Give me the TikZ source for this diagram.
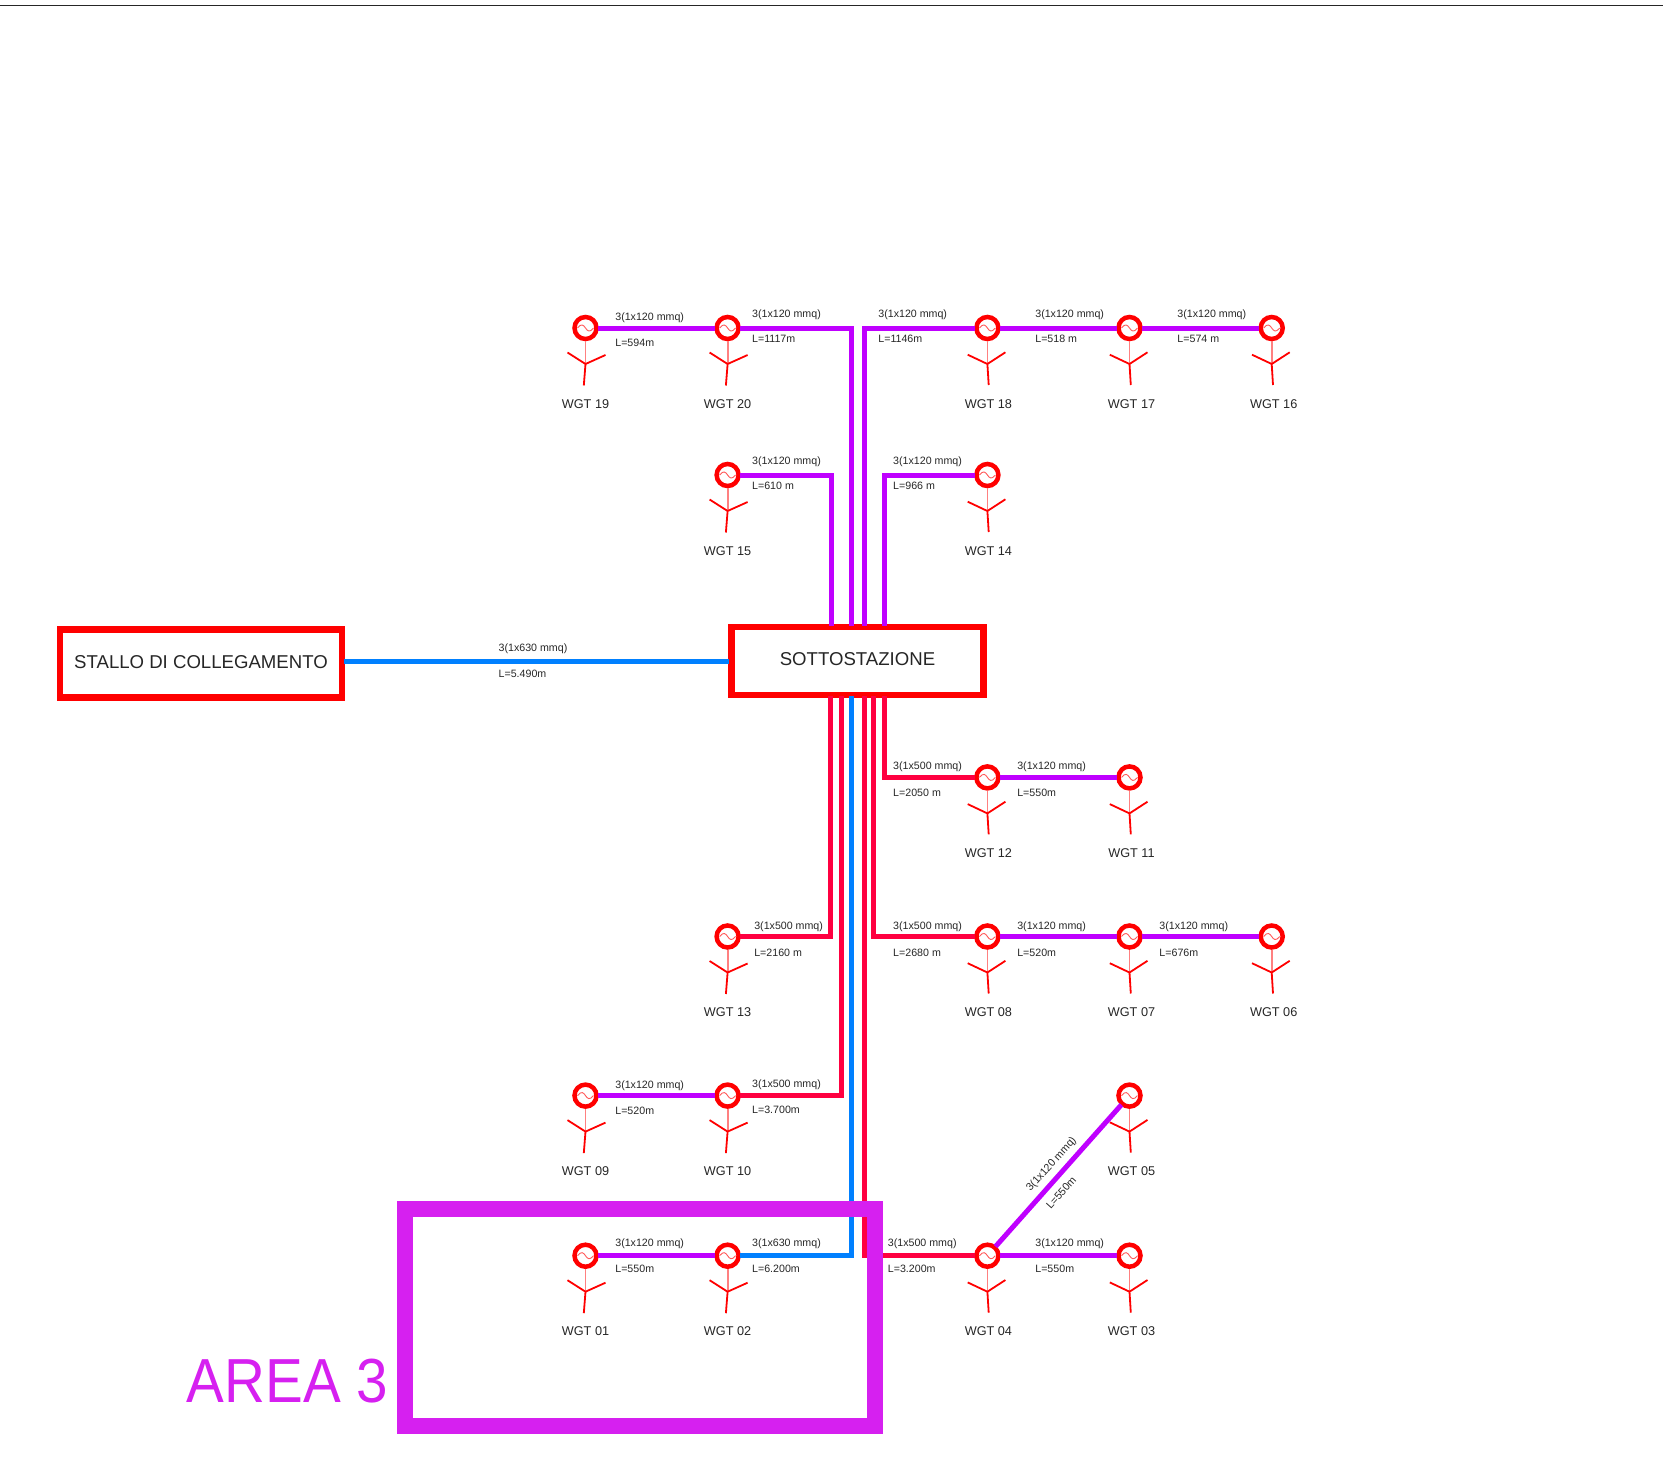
\documentclass[tikz,border=0pt]{standalone}
\usepackage{fontspec}
\setmainfont{Liberation Sans}
\definecolor{cpurple}{HTML}{BF00FF}
\definecolor{cpink}{HTML}{FF0040}
\definecolor{cblue}{HTML}{0080FF}
\definecolor{cred}{HTML}{FF0000}
\definecolor{carea}{HTML}{D620F0}
\definecolor{ctext}{HTML}{262626}
\newcount\labc
\newcommand{\lab}[3]{\global\advance\labc by 1
  \node[lab,name=lab\the\labc] at (#1,#2) {#3};}
\tikzset{
  gen/.style={circle,draw=cred,fill=white,line width=4.5pt,minimum size=22pt,inner sep=0pt},
  wave/.style={draw=cred!65,line width=0.9pt},
  stem/.style={draw=cred!50,line width=1.8pt},
  blade/.style={draw=cred,line width=1.8pt},
  wgtlabel/.style={font=\fontsize{12.7}{14}\selectfont,text=ctext,inner sep=0pt},
  biglabel/.style={font=\fontsize{18.6}{20}\selectfont,text=ctext,inner sep=0pt},
  lab/.style={font=\fontsize{10.65}{12}\selectfont,text=ctext,inner sep=0pt,anchor=base west,yshift=-3.8pt},
  mainbox/.style={draw=cred,fill=white,line width=6.5pt,inner sep=0pt},
  pcab/.style={draw=cpurple,line width=5pt,shorten <=-1pt,shorten >=-1pt},
  rcab/.style={draw=cpink,line width=5pt,shorten <=-1pt,shorten >=-1pt},
  bcab/.style={draw=cblue,line width=5pt,shorten <=-1pt,shorten >=-1pt},
}
\newcommand{\turbA}[5]{%
  \node[gen] (#1) at (#2,#3) {};
  \draw[wave] (#2-8,#3) .. controls (#2-4,#3-5) and (#2-2,#3-3) .. (#2,#3) .. controls (#2+2,#3+3) and (#2+4,#3+5) .. (#2+8,#3);
  \coordinate (#1hub) at (#2,#3+36);
  \draw[stem] (#1) -- (#1hub);
  \draw[blade] (#1hub) -- (#2-18,#3+24.5) (#1hub) -- (#2+20,#3+27) (#1hub) -- (#2-1.7,#3+57.5);
  \node[wgtlabel] (#1lab) at (#2+#5,#3+75.9) {#4};}
\newcommand{\turbB}[5]{%
  \node[gen] (#1) at (#2,#3) {};
  \draw[wave] (#2-8,#3) .. controls (#2-4,#3-5) and (#2-2,#3-3) .. (#2,#3) .. controls (#2+2,#3+3) and (#2+4,#3+5) .. (#2+8,#3);
  \coordinate (#1hub) at (#2,#3+36);
  \draw[stem] (#1) -- (#1hub);
  \draw[blade] (#1hub) -- (#2-19.7,#3+26.7) (#1hub) -- (#2+18,#3+24.3) (#1hub) -- (#2+1.3,#3+57);
  \node[wgtlabel] (#1lab) at (#2+#5,#3+75.9) {#4};}
\begin{document}
\begin{tikzpicture}[x=1pt,y=-1pt]
\useasboundingbox (0,0) rectangle (1663,1464);
\coordinate (tl) at (0,5.5);
\coordinate (tr) at (1663,5.5);
\draw[black!85,line width=1.3pt] (tl) -- (tr);

% main boxes
\node[mainbox,minimum width=252pt,minimum height=68pt] (ss) at (857.5,661) {};
\node[biglabel] (sslab) at (857.5,659) {SOTTOSTAZIONE};
\node[mainbox,minimum width=282pt,minimum height=68pt] (st) at (201,663.5) {};
\node[biglabel] (stlab) at (201,662) {STALLO DI COLLEGAMENTO};

% turbines
\turbA{w19}{585.5}{328}{WGT 19}{0}
\turbA{w20}{727.6}{328}{WGT 20}{0}
\turbB{w18}{987.4}{328}{WGT 18}{1}
\turbB{w17}{1129.5}{328}{WGT 17}{2}
\turbB{w16}{1271.7}{328}{WGT 16}{2}
\turbA{w15}{727.6}{475}{WGT 15}{0}
\turbB{w14}{987.4}{475}{WGT 14}{1}
\turbB{w12}{987.4}{777.4}{WGT 12}{1}
\turbB{w11}{1129.5}{777.4}{WGT 11}{2}
\turbA{w13}{727.6}{936.5}{WGT 13}{0}
\turbB{w08}{987.4}{936.5}{WGT 08}{1}
\turbB{w07}{1129.5}{936.5}{WGT 07}{2}
\turbB{w06}{1271.7}{936.5}{WGT 06}{2}
\turbA{w09}{585.5}{1095.6}{WGT 09}{0}
\turbA{w10}{727.6}{1095.6}{WGT 10}{0}
\turbB{w05}{1129.5}{1095.6}{WGT 05}{2}
\turbA{w01}{585.5}{1255.7}{WGT 01}{0}
\turbA{w02}{727.6}{1255.7}{WGT 02}{0}
\turbB{w04}{987.4}{1255.7}{WGT 04}{1}
\turbB{w03}{1129.5}{1255.7}{WGT 03}{2}

% entry points on the substation
\coordinate (n1) at (831,625);
\coordinate (n2) at (851,625);
\coordinate (n3) at (864,625);
\coordinate (n4) at (884.3,625);
\coordinate (s1) at (830.7,697);
\coordinate (s2) at (841.7,697);
\coordinate (s3) at (851,697);
\coordinate (s4) at (864,697);
\coordinate (s5) at (873.3,697);
\coordinate (s6) at (884.3,697);
\coordinate (stout) at (st.east |- ss.west);

% connectors
\draw[bcab] (stout) -- (ss.west);
\draw[pcab] (w19) -- (w20);
\draw[pcab] (w20) -| (n2);
\draw[pcab] (w18) -| (n3);
\draw[pcab] (w18) -- (w17);
\draw[pcab] (w17) -- (w16);
\draw[pcab] (w15) -| (n1);
\draw[pcab] (w14) -| (n4);
\draw[rcab] (w12) -| (s6);
\draw[pcab] (w12) -- (w11);
\draw[rcab] (w13) -| (s1);
\draw[rcab] (w08) -| (s5);
\draw[pcab] (w08) -- (w07);
\draw[pcab] (w07) -- (w06);
\draw[pcab] (w09) -- (w10);
\draw[rcab] (w10) -| (s2);
\draw[pcab] (w01) -- (w02);
\draw[bcab] (w02) -| (s3);
\draw[rcab] (w04) -| (s4);
\draw[pcab] (w04) -- (w03);
\draw[pcab] (w04) -- (w05);

% area frame
\coordinate (a1) at (404.5,1208.7);
\coordinate (a2) at (874.7,1426.4);
\draw[carea,line width=16pt] (a1) rectangle (a2);
\node[font=\fontsize{56.6}{60}\selectfont,text=carea,inner sep=0pt,anchor=base west,yscale=1.1] (arealab) at (186.7,1402.5) {AREA 3};

% labels, in the 1568-wide frame of measurement
\begin{scope}[x=1.0606pt,y=-1.0606pt]
\lab{580}{298.5}{3(1x120 mmq)}\lab{580}{323.5}{L=594m}
\lab{709}{295.5}{3(1x120 mmq)}\lab{709}{319.5}{L=1117m}
\lab{828}{295.5}{3(1x120 mmq)}\lab{828}{319.5}{L=1146m}
\lab{976}{295.5}{3(1x120 mmq)}\lab{976}{319.5}{L=518 m}
\lab{1110}{295.5}{3(1x120 mmq)}\lab{1110}{319.5}{L=574 m}
\lab{709}{434}{3(1x120 mmq)}\lab{709}{458}{L=610 m}
\lab{842}{434}{3(1x120 mmq)}\lab{842}{458}{L=966 m}
\lab{470}{611}{3(1x630 mmq)}\lab{470}{635.5}{L=5.490m}
\lab{842}{721.5}{3(1x500 mmq)}\lab{842}{747}{L=2050 m}
\lab{959}{721.5}{3(1x120 mmq)}\lab{959}{747}{L=550m}
\lab{711}{872.5}{3(1x500 mmq)}\lab{711}{898}{L=2160 m}
\lab{842}{872.5}{3(1x500 mmq)}\lab{842}{898}{L=2680 m}
\lab{959}{872.5}{3(1x120 mmq)}\lab{959}{898}{L=520m}
\lab{1093}{872.5}{3(1x120 mmq)}\lab{1093}{898}{L=676m}
\lab{580}{1022.5}{3(1x120 mmq)}\lab{580}{1047.5}{L=520m}
\lab{709}{1021.5}{3(1x500 mmq)}\lab{709}{1046.5}{L=3.700m}
\lab{580}{1172}{3(1x120 mmq)}\lab{580}{1196}{L=550m}
\lab{709}{1172}{3(1x630 mmq)}\lab{709}{1196}{L=6.200m}
\lab{837}{1172}{3(1x500 mmq)}\lab{837}{1196}{L=3.200m}
\lab{976}{1172}{3(1x120 mmq)}\lab{976}{1196}{L=550m}
\node[lab,anchor=center,yshift=3.8pt,rotate=48] (diag1) at (991.5,1098) {3(1x120 mmq)};
\node[lab,anchor=center,yshift=3.8pt,rotate=48] (diag2) at (1000.5,1124.5) {L=550m};
\end{scope}
\end{tikzpicture}
\end{document}
